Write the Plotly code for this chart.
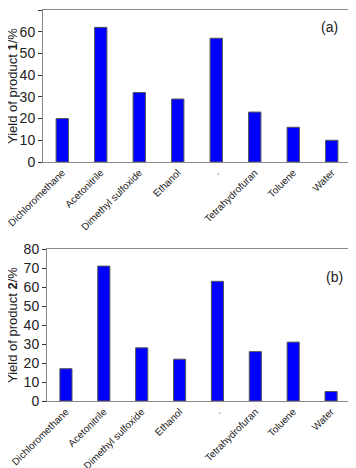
import plotly.graph_objects as go

solvents = ["Dichloromethane", "Acetonitrile", "Dimethyl sulfoxide", "Ethanol", ".",
            "Tetrahydrofuran", "Toluene", "Water"]
yield_product1 = [20, 62, 32, 29, 57, 23, 16, 10]
yield_product2 = [17, 71, 28, 22, 63, 26, 31, 5]
ytitle1 = "Yield of product <b>1</b>/%"
ytitle2 = "Yield of product <b>2</b>/%"

OFF = 8  # page body margin
W, H = 356 - OFF, 468 - OFF
def px_x(p): return (p - OFF) / W
def px_y(p): return 1 - (p - OFF) / H

fig = go.Figure()
bar_style = dict(marker=dict(color="#0000FF", line=dict(color="#555555", width=1)), showlegend=False)
fig.add_trace(go.Bar(x=solvents, y=yield_product1, xaxis="x", yaxis="y", **bar_style))
fig.add_trace(go.Bar(x=solvents, y=yield_product2, xaxis="x2", yaxis="y2", **bar_style))

font = "Arial, Liberation Sans, sans-serif"
xcommon = dict(type="category", tickangle=-45, tickfont=dict(size=10, family=font, color="#222"),
               showline=True, linecolor="#888888", mirror=True, ticks="", showgrid=False,
               range=[-0.5, 7.5], automargin=False)
ycommon = dict(tickfont=dict(size=14, family=font, color="#222"), showline=True, linecolor="#888888",
               mirror=True, ticks="outside", ticklen=4, tickcolor="#333", showgrid=False, zeroline=False,
               dtick=10, automargin=False)

fig.update_layout(
    width=W, height=H, margin=dict(l=0, r=0, t=0, b=0, autoexpand=False),
    paper_bgcolor="white", plot_bgcolor="white", bargap=0.68,
    xaxis=dict(domain=[px_x(43), px_x(351)], anchor="y", **xcommon),
    yaxis=dict(domain=[px_y(162), px_y(10)], anchor="x", range=[0, 70], **ycommon),
    xaxis2=dict(domain=[px_x(47), px_x(350)], anchor="y2", **xcommon),
    yaxis2=dict(domain=[px_y(401), px_y(249)], anchor="x2", range=[0, 80], **ycommon),
    annotations=[
        dict(text=ytitle1, xref="paper", yref="y domain", x=px_x(12), y=0.5, xanchor="center",
             yanchor="middle", textangle=-90, showarrow=False,
             font=dict(size=13, family=font, color="#222")),
        dict(text=ytitle2, xref="paper", yref="y2 domain", x=px_x(12), y=0.5, xanchor="center",
             yanchor="middle", textangle=-90, showarrow=False,
             font=dict(size=13, family=font, color="#222")),
        dict(text="(a)", xref="x domain", yref="y domain", x=0.965, y=0.955, xanchor="right", yanchor="top",
             showarrow=False, font=dict(size=14, family=font, color="#222")),
        dict(text="(b)", xref="x2 domain", yref="y2 domain", x=0.985, y=0.88, xanchor="right", yanchor="top",
             showarrow=False, font=dict(size=14, family=font, color="#222")),
    ],
)

fig.write_html("out.html")
